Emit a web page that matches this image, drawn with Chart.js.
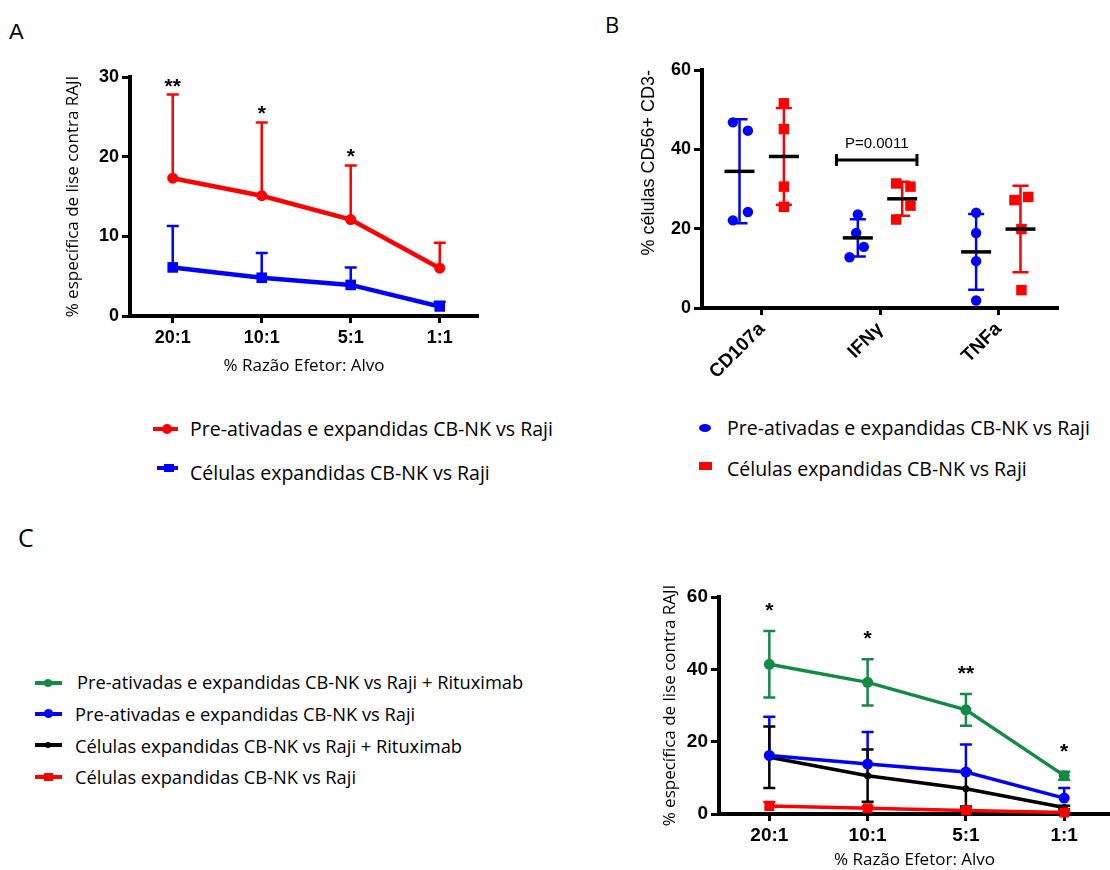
<!DOCTYPE html>
<html>
<head>
<meta charset="utf-8">
<script src="https://cdn.jsdelivr.net/npm/chart.js@4.4.1/dist/chart.umd.min.js"></script>
<style>
  body { margin: 0; background: #fff; }
  #page { position: relative; width: 1110px; height: 870px; overflow: hidden; font-family: "Open Sans", sans-serif; color: #000; }
  canvas { position: absolute; }
  .pl, .tx { position: absolute; line-height: 1; white-space: nowrap; }
  .tx { font-size: 19.5px; }
  .tc { font-size: 18.3px; }
  .ln { position: absolute; height: 4px; }
  .mk { position: absolute; }
</style>
</head>
<body>
<div id="page">
  <div class="pl" style="left:9px;top:21px;font-family:'Liberation Sans';font-size:22px">A</div>
  <div class="pl" style="left:605px;top:13px;font-size:22px">B</div>
  <div class="pl" style="left:18px;top:525px;font-size:25px">C</div>

  <canvas id="chartA" width="440" height="350" style="left:40px;top:40px"></canvas>
  <canvas id="chartB" width="445" height="340" style="left:620px;top:50px"></canvas>
  <canvas id="chartC" width="490" height="300" style="left:620px;top:570px"></canvas>

  <!-- legenda A -->
  <div class="ln" style="left:153px;top:427px;width:25px;background:#f00"></div>
  <div class="mk" style="left:162px;top:424px;width:10px;height:10px;border-radius:50%;background:#f00"></div>
  <div class="tx" id="la0" style="left:190px;top:419px"></div>
  <div class="ln" style="left:157px;top:466px;width:21px;background:#00f"></div>
  <div class="mk" style="left:164px;top:464px;width:10px;height:8px;background:#00f"></div>
  <div class="tx" id="la1" style="left:190px;top:463px"></div>

  <!-- legenda B -->
  <div class="mk" style="left:699px;top:424px;width:12px;height:8px;border-radius:50%;background:#00f"></div>
  <div class="tx" id="lb0" style="left:727px;top:418px"></div>
  <div class="mk" style="left:699px;top:462px;width:13px;height:8px;background:#f00"></div>
  <div class="tx" id="lb1" style="left:727px;top:459px"></div>

  <!-- legenda C -->
  <div class="ln" style="left:35px;top:681px;width:27px;height:3.5px;background:#148a46"></div>
  <div class="mk" style="left:44px;top:679px;width:8px;height:8px;border-radius:50%;background:#148a46"></div>
  <div class="tx tc" id="lc0" style="left:77px;top:673px"></div>
  <div class="ln" style="left:35px;top:712px;width:27px;height:3.5px;background:#00f"></div>
  <div class="mk" style="left:44px;top:709px;width:9px;height:9px;border-radius:50%;background:#00f"></div>
  <div class="tx tc" id="lc1" style="left:75px;top:705px"></div>
  <div class="ln" style="left:35px;top:743px;width:27px;height:3.5px;background:#000"></div>
  <div class="mk" style="left:45px;top:742px;width:6px;height:6px;border-radius:50%;background:#000"></div>
  <div class="tx tc" id="lc2" style="left:75px;top:737px"></div>
  <div class="ln" style="left:35px;top:775px;width:27px;height:3.5px;background:#f00"></div>
  <div class="mk" style="left:44px;top:773px;width:9px;height:8px;background:#f00"></div>
  <div class="tx tc" id="lc3" style="left:75px;top:768px"></div>
</div>

<script>
var ratios = ['20:1', '10:1', '5:1', '1:1'];

// A - % lise especifica, media e DP (barra so para cima)
var namesA = ['Pre-ativadas e expandidas CB-NK vs Raji', 'Células expandidas CB-NK vs Raji'];
var aPreMean = [17.3, 15.1, 12.1, 6.0];
var aPreSd = [10.5, 9.2, 6.8, 3.2];
var aExpMean = [6.1, 4.8, 3.9, 1.2];
var aExpSd = [5.2, 3.1, 2.2, 0.6];
var aStars = ['**', '*', '*', ''];

// B - % celulas CD56+ CD3-, 4 doadores por grupo
var markers = ['CD107a', 'IFNγ', 'TNFa'];
var bPre = [[46.8, 44.7, 22.1, 24.2], [23.6, 18.9, 15.4, 12.8], [24.0, 18.9, 11.8, 1.9]];
var bExp = [[51.6, 45.1, 30.6, 25.5], [31.4, 30.6, 25.8, 22.3], [27.2, 28.0, 19.9, 4.5]];
var bPval = 'P=0.0011';
// deslocamento horizontal dos pontos (so visual)
var bPreJit = [[-0.056, 0.071, -0.056, 0.071], [0, -0.014, 0.051, -0.07], [0, 0, 0, 0]];
var bExpJit = [[0, 0, 0, 0], [-0.051, 0.07, 0.07, -0.051], [-0.051, 0.065, 0.008, 0.008]];

// C - com e sem Rituximab
var namesC = ['Pre-ativadas e expandidas CB-NK vs Raji + Rituximab', 'Pre-ativadas e expandidas CB-NK vs Raji',
              'Células expandidas CB-NK vs Raji + Rituximab', 'Células expandidas CB-NK vs Raji'];
var cPreRit = [41.4, 36.4, 28.8, 10.6];
var cPreRitSd = [9.2, 6.4, 4.4, 1.1];
var cPre = [16.2, 13.8, 11.6, 4.4];
var cPreSd = [10.7, 8.9, 7.6, 2.8];
var cExpRit = [15.7, 10.6, 7.0, 1.8];
var cExpRitSd = [8.5, 7.2, 4.9, 0.5];
var cExp = [2.2, 1.6, 1.0, 0.4];
var cExpSd = [1.1, 0.5, 0.4, 0.2];
var cStars = ['*', '*', '**', '*'];

var RED = '#ff0000', BLUE = '#0000ff', GREEN = '#148a46', BLACK = '#000000';

['la0', 'la1'].forEach(function (id, i) { document.getElementById(id).textContent = namesA[i]; });
['lb0', 'lb1'].forEach(function (id, i) { document.getElementById(id).textContent = namesA[i]; });
['lc0', 'lc1', 'lc2', 'lc3'].forEach(function (id, i) { document.getElementById(id).textContent = namesC[i]; });

Chart.defaults.font.family = '"Liberation Sans", Arial, sans-serif';
Chart.defaults.color = '#000';

// barras de erro (DP) desenhadas por baixo das linhas
var errorBars = {
  id: 'errorBars',
  beforeDatasetsDraw: function (chart) {
    var ctx = chart.ctx, ys = chart.scales.y;
    chart.data.datasets.forEach(function (ds, i) {
      if (!ds.sd) return;
      var meta = chart.getDatasetMeta(i);
      ctx.save();
      ctx.strokeStyle = ds.borderColor;
      ctx.lineWidth = 2.5;
      meta.data.forEach(function (pt, j) {
        var v = ds.data[j].y;
        var top = ys.getPixelForValue(v + ds.sd[j]);
        var bot = ds.both ? ys.getPixelForValue(v - ds.sd[j]) : pt.y;
        ctx.beginPath();
        ctx.moveTo(pt.x, top); ctx.lineTo(pt.x, bot);
        ctx.moveTo(pt.x - 6, top); ctx.lineTo(pt.x + 6, top);
        if (ds.both) { ctx.moveTo(pt.x - 6, bot); ctx.lineTo(pt.x + 6, bot); }
        ctx.stroke();
      });
      ctx.restore();
    });
  }
};

// asteriscos de significancia acima da barra de erro
var stars = {
  id: 'stars',
  afterDatasetsDraw: function (chart, args, opts) {
    if (!opts.text) return;
    var ctx = chart.ctx, xs = chart.scales.x, ys = chart.scales.y;
    var ds = chart.data.datasets[opts.ref];
    ctx.save();
    ctx.font = 'bold 21px "Liberation Sans"';
    ctx.textAlign = 'center';
    ctx.fillStyle = '#000';
    opts.text.forEach(function (t, j) {
      var top = ys.getPixelForValue(ds.data[j].y + ds.sd[j]);
      ctx.fillText(t, xs.getPixelForValue(ds.data[j].x), top - opts.gap);
    });
    ctx.restore();
  }
};

function groupStats(vals) {
  var n = vals.length, m = 0, s = 0;
  vals.forEach(function (v) { m += v; });
  m /= n;
  vals.forEach(function (v) { s += (v - m) * (v - m); });
  return { mean: m, sd: Math.sqrt(s / (n - 1)) };
}

function drawMeanSd(chart, meanOnly) {
  var ctx = chart.ctx, xs = chart.scales.x, ys = chart.scales.y;
  ctx.save();
  chart.data.datasets.forEach(function (ds) {
    ds.groups.forEach(function (vals, k) {
      var st = groupStats(vals);
      var x = xs.getPixelForValue(k + ds.off);
      ctx.beginPath();
      if (meanOnly) {
        var ym = ys.getPixelForValue(st.mean);
        ctx.strokeStyle = '#000';
        ctx.lineWidth = 3.5;
        ctx.moveTo(x - 15, ym); ctx.lineTo(x + 15, ym);
      } else {
        var y0 = ys.getPixelForValue(st.mean + st.sd), y1 = ys.getPixelForValue(st.mean - st.sd);
        ctx.strokeStyle = ds.borderColor;
        ctx.lineWidth = 2.5;
        ctx.moveTo(x, y0); ctx.lineTo(x, y1);
        ctx.moveTo(x - 8, y0); ctx.lineTo(x + 8, y0);
        ctx.moveTo(x - 8, y1); ctx.lineTo(x + 8, y1);
      }
      ctx.stroke();
    });
  });
  ctx.restore();
}

var meanSd = {
  id: 'meanSd',
  beforeDatasetsDraw: function (chart) { drawMeanSd(chart, false); },
  afterDatasetsDraw: function (chart, args, o) {
    drawMeanSd(chart, true);
    if (!o.text) return;
    var ctx = chart.ctx, xs = chart.scales.x, ys = chart.scales.y;
    var xa = xs.getPixelForValue(o.from), xb = xs.getPixelForValue(o.to), y = ys.getPixelForValue(o.y);
    ctx.save();
    ctx.strokeStyle = '#000';
    ctx.lineWidth = 3;
    ctx.beginPath();
    ctx.moveTo(xa, y); ctx.lineTo(xb, y);
    ctx.moveTo(xa, y - 6); ctx.lineTo(xa, y + 6);
    ctx.moveTo(xb, y - 6); ctx.lineTo(xb, y + 6);
    ctx.stroke();
    ctx.font = '15px "Liberation Sans"';
    ctx.fillStyle = '#000';
    ctx.textAlign = 'center';
    ctx.fillText(o.text, (xa + xb) / 2, y - 12);
    ctx.restore();
  }
};

function xAxis(labels, min, max, height, o) {
  return {
    type: 'linear', min: min, max: max,
    afterBuildTicks: function (s) { s.ticks = labels.map(function (l, i) { return { value: i }; }); },
    afterFit: function (s) { s.height = height; },
    ticks: {
      autoSkip: false, maxRotation: o.rot, minRotation: o.rot, padding: o.pad,
      font: { size: o.size, weight: 'bold' },
      callback: function (v) { return labels[v]; }
    },
    grid: { drawOnChartArea: false, tickLength: 7, tickWidth: 3, tickColor: '#000' },
    border: { width: 4, color: '#000' },
    title: o.title ? { display: true, text: o.title, font: { family: '"Open Sans"', size: 17 }, padding: { top: 0, bottom: o.titlePad } } : { display: false }
  };
}

function yAxis(max, step, width, o) {
  return {
    min: 0, max: max,
    afterFit: function (s) { s.width = width; },
    ticks: { stepSize: step, padding: 3, font: { size: o.size, weight: 'bold' } },
    grid: { drawOnChartArea: false, tickLength: 8, tickWidth: 3, tickColor: '#000' },
    border: { width: 4, color: '#000' },
    title: { display: true, text: o.title, align: o.align || 'center', font: o.font, padding: { top: o.titlePad, bottom: 0 } }
  };
}

function baseOptions(pad, x, y, extra) {
  return {
    responsive: false, animation: false, devicePixelRatio: 1,
    layout: { padding: pad, autoPadding: false },
    scales: { x: x, y: y },
    plugins: Object.assign({ legend: { display: false }, tooltip: { enabled: false } }, extra)
  };
}

function lineSet(label, vals, sd, color, style, radius, width, both) {
  return {
    label: label,
    data: vals.map(function (v, i) { return { x: i, y: v }; }),
    sd: sd, both: both,
    borderColor: color, backgroundColor: color,
    borderWidth: width, pointStyle: style, pointRadius: radius, pointBorderWidth: 0,
    tension: 0, clip: false
  };
}

function scatterSet(label, groups, jit, off, color, style, radius) {
  var pts = [];
  groups.forEach(function (vals, k) {
    vals.forEach(function (v, j) { pts.push({ x: k + off + jit[k][j], y: v }); });
  });
  return {
    label: label, data: pts, groups: groups, off: off,
    borderColor: color, backgroundColor: color,
    pointStyle: style, pointRadius: radius, pointBorderWidth: 0, clip: false
  };
}

var axisTitleFont = { family: '"Open Sans"', size: 17 };

// painel A
new Chart(document.getElementById('chartA'), {
  type: 'line',
  data: { datasets: [
    lineSet(namesA[0], aPreMean, aPreSd, RED, 'circle', 5.5, 4.5, false),
    lineSet(namesA[1], aExpMean, aExpSd, BLUE, 'rect', 7.5, 4.5, false)
  ] },
  options: baseOptions({ top: 37, right: 2, left: 0, bottom: 0 },
    xAxis(ratios, -0.48, 3.43, 74, { rot: 0, pad: 4, size: 18, title: '% Razão Efetor: Alvo', titlePad: 14 }),
    yAxis(30, 10, 90, { size: 18, title: '% específica de lise contra RAJI', font: axisTitleFont, titlePad: 23 }),
    { stars: { text: aStars, ref: 0, gap: 2 } }),
  plugins: [errorBars, stars]
});

// painel B
new Chart(document.getElementById('chartB'), {
  type: 'scatter',
  data: { datasets: [
    scatterSet(namesA[0], bPre, bPreJit, -0.19, BLUE, 'circle', 5.2),
    scatterSet(namesA[1], bExp, bExpJit, 0.185, RED, 'rect', 7.4)
  ] },
  options: baseOptions({ top: 20, right: 7, left: 0, bottom: 0 },
    xAxis(markers, -0.507, 2.502, 82, { rot: 45, pad: 3, size: 19 }),
    yAxis(60, 20, 82, { size: 18, title: '% células CD56+ CD3-', align: 'end', font: { family: '"Liberation Sans"', size: 18 }, titlePad: 18 }),
    { meanSd: { text: bPval, from: 0.63, to: 1.31, y: 37.3 } }),
  plugins: [meanSd]
});

// painel C
new Chart(document.getElementById('chartC'), {
  type: 'line',
  data: { datasets: [
    lineSet(namesC[3], cExp, cExpSd, RED, 'rect', 7, 3.5, false),
    lineSet(namesC[1], cPre, cPreSd, BLUE, 'circle', 5.5, 3.5, false),
    lineSet(namesC[0], cPreRit, cPreRitSd, GREEN, 'circle', 5.5, 3.5, true),
    lineSet(namesC[2], cExpRit, cExpRitSd, BLACK, 'circle', 3.5, 3.5, true)
  ] },
  options: baseOptions({ top: 27, right: 0, left: 0, bottom: 0 },
    xAxis(ratios, -0.512, 3.466, 56, { rot: 0, pad: 3, size: 19, title: '% Razão Efetor: Alvo', titlePad: 0 }),
    yAxis(60, 20, 99, { size: 19, title: '% específica de lise contra RAJI', font: axisTitleFont, titlePad: 40 }),
    { stars: { text: cStars, ref: 2, gap: 14 } }),
  plugins: [errorBars, stars]
});
</script>
</body>
</html>
